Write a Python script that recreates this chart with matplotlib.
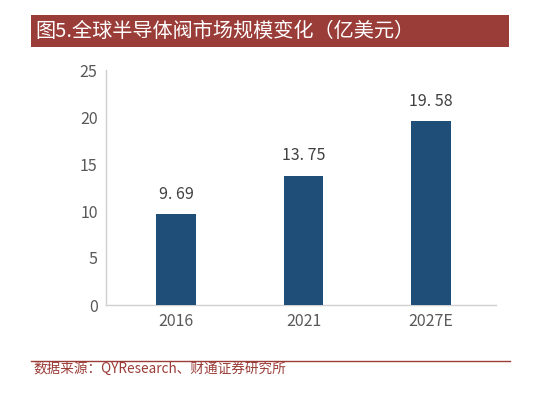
import matplotlib
matplotlib.use("Agg")
import matplotlib.pyplot as plt
from matplotlib.patches import Rectangle
from matplotlib.lines import Line2D

plt.rcParams['font.family'] = ['Noto Sans CJK SC', 'DejaVu Sans']

categories = ["2016", "2021", "2027E"]
values = [9.69, 13.75, 19.58]
value_labels = ["9. 69", "13. 75", "19. 58"]
yticks = [0, 5, 10, 15, 20, 25]
title = "图5.全球半导体阀市场规模变化（亿美元）"
source = "数据来源：QYResearch、财通证券研究所"

W, H = 545, 394
fig = plt.figure(figsize=(W / 100, H / 100), dpi=100)

# title bar
fig.patches.append(Rectangle((31 / W, 1 - 47 / H), (509 - 31) / W, 32 / H,
                             transform=fig.transFigure, facecolor="#9A3C37",
                             edgecolor="none", zorder=0))
fig.text(35 / W, 1 - 31 / H, title, color="white", fontsize=14.5,
         va="center", ha="left")

ax = fig.add_axes([106 / W, 1 - 305 / H, (496 - 106) / W, (305 - 70) / H])
x = range(len(categories))
ax.bar(x, values, width=0.31, color="#1F4E79", zorder=3)
for xi, v, lab in zip(x, values, value_labels):
    ax.text(xi, v + 1.2, lab, ha="center", va="bottom", fontsize=11.5,
            color="#404040")
ax.set_xlim(-0.55, 2.51)
ax.set_ylim(0, 25)
ax.set_yticks(yticks)
ax.set_xticks(list(x))
ax.set_xticklabels(categories)
ax.tick_params(axis="both", length=0, labelsize=11.5, colors="#595959")
ax.tick_params(axis="y", pad=6)
ax.tick_params(axis="x", pad=6)
for s in ["top", "right"]:
    ax.spines[s].set_visible(False)
for s in ["left", "bottom"]:
    ax.spines[s].set_color("#D0D0D0")
    ax.spines[s].set_linewidth(1.0)

# separator line and source
fig.add_artist(Line2D([31 / W, 510 / W], [1 - 361 / H, 1 - 361 / H],
                      transform=fig.transFigure, color="#9A3C37", linewidth=1.0))
fig.text(33 / W, 1 - 369 / H, source, color="#9A3C37", fontsize=9.8,
         va="center", ha="left")

fig.savefig("out.png", dpi=100)
